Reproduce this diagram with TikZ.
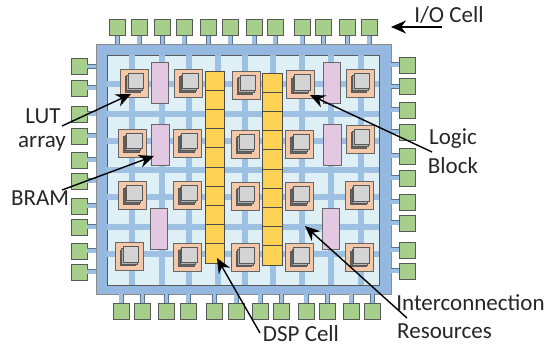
\documentclass[tikz,border=0pt]{standalone}
\usepackage{fontspec}
\setmainfont{Carlito}
\usetikzlibrary{arrows.meta}
\definecolor{framecolor}{HTML}{94B8DF}
\definecolor{wirecolor}{HTML}{9DC0E3}
\definecolor{fabriccolor}{HTML}{DEF0F6}
\definecolor{iocolor}{HTML}{A6CF8C}
\definecolor{logiccolor}{HTML}{F6C8AA}
\definecolor{bramcolor}{HTML}{E2C8E0}
\definecolor{dspcolor}{HTML}{FDD154}
\definecolor{edgecolor}{HTML}{5A7390}
\begin{document}
\begin{tikzpicture}
[x=1pt,y=-1pt,
  iodecorate/.style={shape=rectangle,draw=black!65,fill=iocolor,line width=0.9pt,minimum size=16pt,inner sep=0pt},%
  stubdecorate/.style={draw=edgecolor,line width=5pt},%
  stubfill/.style={draw=wirecolor,line width=3.4pt},%
  logicdecorate/.style={shape=rectangle,draw=black!60,fill=logiccolor,line width=0.7pt,minimum size=28pt,inner sep=0pt},%
  lutdecorate/.style={shape=rectangle,draw=black!65,fill=#1,line width=0.6pt,minimum size=15.5pt,inner sep=0pt},%
  bramdecorate/.style={shape=rectangle,draw=black!60,fill=bramcolor,line width=0.7pt,minimum width=17.5pt,minimum height=41pt,inner sep=0pt},%
  dspdecorate/.style={shape=rectangle,draw=black!70,fill=dspcolor,line width=0.6pt,minimum width=19.5pt,minimum height=19.2pt,inner sep=0pt},%
  arrowdecorate/.style={-{Stealth[length=15pt,width=13pt]},line width=1.4pt,black},%
  labeldecorate/.style={font=\fontsize{23}{26}\selectfont,text=black!85,inner sep=0pt}]
\useasboundingbox (0,0) rectangle (549,347);
% chip frame and fabric
\node (frame) at (243.5,169) [shape=rectangle,draw=black!45,fill=framecolor,line width=0.6pt,minimum width=295pt,minimum height=250pt,inner sep=0pt] {};
\node (fabric) at (243,170) [shape=rectangle,draw=black!65,fill=fabriccolor,line width=0.7pt,minimum width=272pt,minimum height=230pt,inner sep=0pt] {};
% routing wires
\foreach \x in {132,162,189,218,245,273,302,331,361}
  \draw[wirecolor,line width=6.5pt] (\x,0 |- fabric.north) -- (\x,0 |- fabric.south);
\foreach \y in {84,114,141,170,197,227,254}
  \draw[wirecolor,line width=6.5pt] (fabric.west |- 0,\y) -- (fabric.east |- 0,\y);
% i/o cells and their stubs
\foreach \x [count=\i] in {117.5,139,162.5,184,208.5,230,254,275,302,323.5,347.5,369} {
  \node (iotop\i) at (\x,27.5) [iodecorate] {};
  \draw[stubdecorate] (iotop\i.south) -- (iotop\i |- frame.north);
  \draw[stubfill] (iotop\i.south) -- (iotop\i |- frame.north);
}
\foreach \x [count=\i] in {121,142.5,166.5,188,214.5,236,260,281.5,306,327.5,351,372.5} {
  \node (iobot\i) at (\x,311) [iodecorate] {};
  \draw[stubdecorate] (iobot\i.north) -- (iobot\i |- frame.south);
  \draw[stubfill] (iobot\i.north) -- (iobot\i |- frame.south);
}
\foreach \y [count=\i] in {66.5,88,114,136,160,181,206,227,251,272} {
  \node (ioleft\i) at (79,\y) [iodecorate] {};
  \draw[stubdecorate] (ioleft\i.east) -- (ioleft\i -| frame.west);
  \draw[stubfill] (ioleft\i.east) -- (ioleft\i -| frame.west);
}
\foreach \y [count=\i] in {65,86.5,110,132,156,178,202,223,250,271} {
  \node (ioright\i) at (407.5,\y) [iodecorate] {};
  \draw[stubdecorate] (ioright\i.west) -- (ioright\i -| frame.east);
  \draw[stubfill] (ioright\i.west) -- (ioright\i -| frame.east);
}
% logic blocks with their lut stacks
\foreach \x/\y [count=\i] in {134/83,188.5/83,246/85,300.5/84.5,360/83,
    132.5/143,187.5/143,245/144,299.5/144,360/139,
    132.5/195,187.5/195,245/196,299.5/196,359.5/195.5,
    129/256.5,187.5/257,245/257.5,299.5/257.5,359.5/257.5} {
  \node (logic\i) at (\x,\y) [logicdecorate] {};
  \node (lutc\i) at ([shift={(-1.2,1.2)}]logic\i.center) [lutdecorate=black!60] {};
  \node (lutb\i) at ([shift={(0.4,-0.4)}]logic\i.center) [lutdecorate=black!30] {};
  \node (luta\i) at ([shift={(2,-2)}]logic\i.center) [lutdecorate=black!17] {};
}
% block rams
\foreach \x/\y [count=\i] in {160/82.5,160.5/144.5,159/228.5,332/82.5,332.5/144.5,331/228.5}
  \node (bram\i) at (\x,\y) [bramdecorate] {};
% dsp columns
\foreach \i in {1,...,10} {
  \node (dspa\i) at (215,{61.4+\i*19.2}) [dspdecorate] {};
  \node (dspb\i) at (272.5,{63.4+\i*19.2}) [dspdecorate] {};
}
% labels
\node (iolabel) at (449,15) [labeldecorate] {I/O Cell};
\node (lutlabel) at (43,116) [labeldecorate] {LUT};
\node (arraylabel) at (42,144) [labeldecorate] {array};
\node (bramlabel) at (40,198) [labeldecorate] {BRAM};
\node (logiclabel) at (453,139) [labeldecorate] {Logic};
\node (blocklabel) at (453,166) [labeldecorate] {Block};
\node (dsplabel) at (301,334) [labeldecorate] {DSP Cell};
\node (interlabel) at (470.5,303) [labeldecorate] {Interconnection};
\node (reslabel) at (444.5,331) [labeldecorate] {Resources};
% arrow ends
\coordinate (iostart) at (442,27);
\coordinate (iotip) at (391,27);
\coordinate (lutstart) at (62,126);
\coordinate (luttip) at (131,94);
\coordinate (bramstart) at (62,190);
\coordinate (bramtip) at (154,156);
\coordinate (logicstart) at (432,152);
\coordinate (logictip) at (310,95);
\coordinate (dspstart) at (260,333);
\coordinate (dsptip) at (217,258);
\coordinate (interstart) at (407,318);
\coordinate (intertip) at (305,226);
% arrows
\path
(iostart) edge[arrowdecorate] (iotip)
(lutstart) edge[arrowdecorate] (luttip)
(bramstart) edge[arrowdecorate] (bramtip)
(logicstart) edge[arrowdecorate] (logictip)
(dspstart) edge[arrowdecorate] (dsptip)
(interstart) edge[arrowdecorate] (intertip);
\end{tikzpicture}
\end{document}
